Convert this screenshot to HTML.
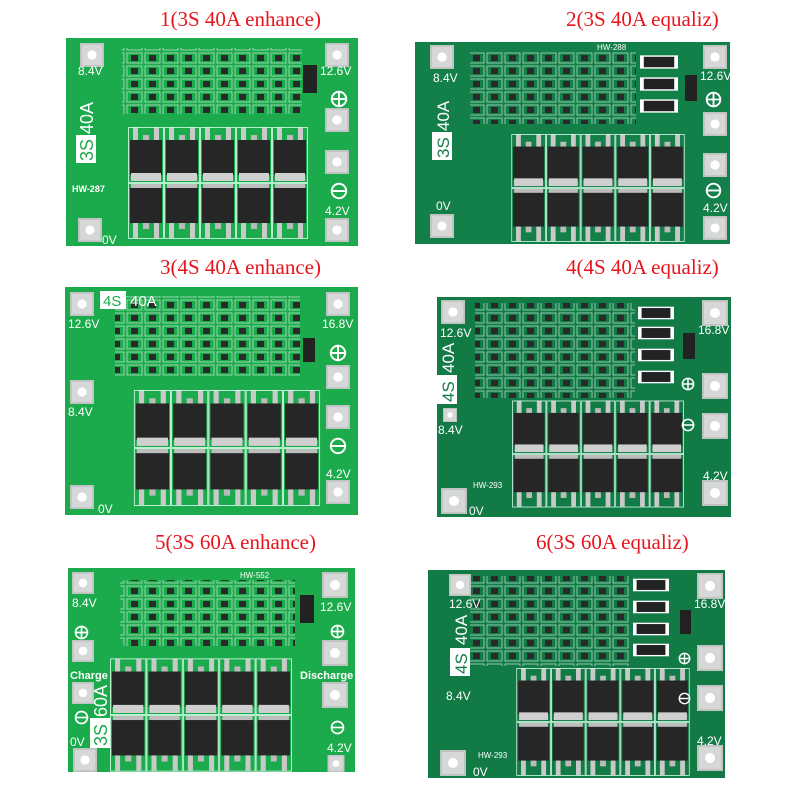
<!DOCTYPE html>
<html><head><meta charset="utf-8"><style>
html,body{margin:0;padding:0;background:#fff;width:800px;height:800px;overflow:hidden}
svg{display:block}
.t{font-family:"Liberation Serif",serif;font-size:21px;fill:#e8141c}
.w{font-family:"Liberation Sans",sans-serif;fill:#fff}
</style></head><body>
<svg width="800" height="800" viewBox="0 0 800 800" xmlns="http://www.w3.org/2000/svg">
<defs>
<pattern id="cp" width="18" height="13" patternUnits="userSpaceOnUse">
<rect x="1" y="1" width="15" height="10" fill="none" stroke="#d8eedc" stroke-width="0.8" opacity="0.8"/>
<rect x="5" y="3" width="7" height="6" fill="#2a2a2a"/>
</pattern>
<symbol id="ft" viewBox="0 0 36 56"><rect x="5" y="0" width="5" height="16" fill="#c9c9c9"/><rect x="26" y="0" width="5" height="16" fill="#c9c9c9"/><rect x="15" y="8" width="6" height="8" fill="#bbb"/><rect x="2" y="13" width="32" height="35" fill="#262626"/><rect x="3" y="46" width="30" height="8" fill="#cfcfcf"/><rect x="0.5" y="0.5" width="35" height="55" fill="none" stroke="#dfe" stroke-width="0.8"/></symbol>
<symbol id="fb" viewBox="0 0 36 56"><rect x="3" y="1" width="30" height="6" fill="#bdbdbd"/><rect x="2" y="5" width="32" height="35" fill="#262626"/><rect x="5" y="40" width="5" height="15" fill="#c9c9c9"/><rect x="26" y="40" width="5" height="15" fill="#c9c9c9"/><rect x="15" y="40" width="6" height="6" fill="#bbb"/><rect x="0.5" y="0.5" width="35" height="55" fill="none" stroke="#dfe" stroke-width="0.8"/></symbol>
<symbol id="tm" viewBox="0 0 26 26"><rect width="26" height="26" fill="#bfc3c1"/><rect x="2" y="2" width="22" height="22" fill="#d6d8d7"/><circle cx="13" cy="13" r="5" fill="#fff"/></symbol>
<symbol id="pl" viewBox="0 0 20 20"><circle cx="10" cy="10" r="8" fill="none" stroke="#fff" stroke-width="2.2"/><path d="M2 10H18M10 2V18" stroke="#fff" stroke-width="2.2"/></symbol>
<symbol id="mi" viewBox="0 0 20 20"><circle cx="10" cy="10" r="8" fill="none" stroke="#fff" stroke-width="2.2"/><path d="M2 10H18" stroke="#fff" stroke-width="2.2"/></symbol>
<symbol id="fets" viewBox="0 0 180 112"><use href="#ft" x="0" y="0" width="36" height="56"/><use href="#ft" x="36" y="0" width="36" height="56"/><use href="#ft" x="72" y="0" width="36" height="56"/><use href="#ft" x="108" y="0" width="36" height="56"/><use href="#ft" x="144" y="0" width="36" height="56"/><use href="#fb" x="0" y="56" width="36" height="56"/><use href="#fb" x="36" y="56" width="36" height="56"/><use href="#fb" x="72" y="56" width="36" height="56"/><use href="#fb" x="108" y="56" width="36" height="56"/><use href="#fb" x="144" y="56" width="36" height="56"/></symbol>
<symbol id="res" viewBox="0 0 40 14"><rect width="40" height="14" fill="#fff"/><rect x="4" y="1.5" width="32" height="11" fill="#222"/></symbol>
</defs>
<rect width="800" height="800" fill="#fff"/>

<text class="t" x="160" y="26">1(3S 40A enhance)</text>
<text class="t" x="566" y="26">2(3S 40A equaliz)</text>
<text class="t" x="160" y="274">3(4S 40A enhance)</text>
<text class="t" x="566" y="274">4(4S 40A equaliz)</text>
<text class="t" x="155" y="549">5(3S 60A enhance)</text>
<text class="t" x="536" y="549">6(3S 60A equaliz)</text>

<!-- Board 1 -->
<rect x="66" y="38" width="292" height="208" fill="#1cab4c"/>
<rect x="122" y="48" width="180" height="66" fill="url(#cp)"/>
<use href="#fets" x="128" y="126" width="180" height="114"/>
<use href="#tm" x="80" y="43" width="24" height="24"/>
<use href="#tm" x="325" y="43" width="24" height="24"/>
<use href="#tm" x="325" y="108" width="24" height="24"/>
<use href="#tm" x="325" y="150" width="24" height="24"/>
<use href="#tm" x="325" y="218" width="24" height="24"/>
<use href="#tm" x="78" y="218" width="24" height="24"/>
<use href="#pl" x="330" y="90" width="18" height="18"/>
<use href="#mi" x="330" y="182" width="18" height="18"/>
<rect x="303" y="65" width="14" height="28" fill="#222"/>
<rect x="76" y="135" width="20" height="28" fill="#fff"/>
<text class="w" x="78" y="75" style="font-size:12px">8.4V</text>
<text class="w" x="320" y="75" style="font-size:12px">12.6V</text>
<text class="w" x="325" y="215" style="font-size:12px">4.2V</text>
<text class="w" x="102" y="244" style="font-size:12px">0V</text>
<text class="w" x="72" y="192" style="font-size:9px;font-weight:bold">HW-287</text>
<text class="w" transform="translate(93,161) rotate(-90)" style="font-size:18px;fill:#1cab4c">3S</text>
<text class="w" transform="translate(93,134) rotate(-90)" style="font-size:18px">40A</text>

<!-- Board 2 -->
<rect x="415" y="42" width="315" height="202" fill="#137f49"/>
<rect x="470" y="52" width="166" height="72" fill="url(#cp)"/>
<use href="#res" x="640" y="55" width="38" height="14"/>
<use href="#res" x="640" y="77" width="38" height="14"/>
<use href="#res" x="640" y="99" width="38" height="14"/>
<use href="#fets" x="505" y="134" width="186" height="108"/>
<use href="#tm" x="430" y="45" width="24" height="24"/>
<use href="#tm" x="703" y="45" width="24" height="24"/>
<use href="#tm" x="703" y="112" width="24" height="24"/>
<use href="#tm" x="703" y="153" width="24" height="24"/>
<use href="#tm" x="703" y="216" width="24" height="24"/>
<use href="#tm" x="430" y="214" width="24" height="24"/>
<use href="#pl" x="705" y="91" width="17" height="17"/>
<use href="#mi" x="705" y="182" width="17" height="17"/>
<rect x="685" y="75" width="12" height="26" fill="#222"/>
<rect x="432" y="132" width="20" height="28" fill="#fff"/>
<text class="w" x="433" y="82" style="font-size:12px">8.4V</text>
<text class="w" x="700" y="80" style="font-size:12px">12.6V</text>
<text class="w" x="703" y="212" style="font-size:12px">4.2V</text>
<text class="w" x="436" y="210" style="font-size:12px">0V</text>
<text class="w" x="597" y="50" style="font-size:8px">HW-288</text>
<text class="w" transform="translate(449,158) rotate(-90)" style="font-size:17px;fill:#137f49">3S</text>
<text class="w" transform="translate(449,131) rotate(-90)" style="font-size:17px">40A</text>

<!-- Board 3 -->
<rect x="65" y="287" width="293" height="228" fill="#1cab4c"/>
<rect x="115" y="296" width="185" height="80" fill="url(#cp)"/>
<use href="#fets" x="118" y="390" width="218" height="116"/>
<use href="#tm" x="70" y="292" width="24" height="24"/>
<use href="#tm" x="326" y="292" width="24" height="24"/>
<use href="#tm" x="70" y="380" width="24" height="24"/>
<use href="#tm" x="326" y="365" width="24" height="24"/>
<use href="#tm" x="326" y="405" width="24" height="24"/>
<use href="#tm" x="326" y="480" width="24" height="24"/>
<use href="#tm" x="70" y="485" width="24" height="24"/>
<use href="#pl" x="329" y="344" width="18" height="18"/>
<use href="#mi" x="329" y="437" width="18" height="18"/>
<rect x="303" y="338" width="12" height="24" fill="#222"/>
<rect x="100" y="291" width="26" height="18" fill="#fff"/>
<text class="w" x="103" y="306" style="font-size:15px;fill:#1cab4c">4S</text>
<text class="w" x="130" y="306" style="font-size:15px">40A</text>
<text class="w" x="68" y="328" style="font-size:12px">12.6V</text>
<text class="w" x="322" y="328" style="font-size:12px">16.8V</text>
<text class="w" x="68" y="416" style="font-size:12px">8.4V</text>
<text class="w" x="326" y="478" style="font-size:12px">4.2V</text>
<text class="w" x="98" y="513" style="font-size:12px">0V</text>

<!-- Board 4 -->
<rect x="437" y="297" width="294" height="220" fill="#117a45"/>
<rect x="475" y="303" width="160" height="95" fill="url(#cp)"/>
<use href="#res" x="638" y="306" width="36" height="14"/>
<use href="#res" x="638" y="326" width="36" height="14"/>
<use href="#res" x="638" y="348" width="36" height="14"/>
<use href="#res" x="638" y="370" width="36" height="14"/>
<use href="#fets" x="512" y="400" width="172" height="108"/>
<use href="#tm" x="440" y="300" width="26" height="24"/>
<use href="#tm" x="702" y="300" width="26" height="26"/>
<use href="#tm" x="702" y="373" width="26" height="26"/>
<use href="#tm" x="702" y="413" width="26" height="26"/>
<use href="#tm" x="702" y="480" width="26" height="26"/>
<use href="#tm" x="441" y="488" width="26" height="26"/>
<use href="#tm" x="443" y="408" width="14" height="14"/>
<use href="#pl" x="681" y="377" width="14" height="14"/>
<use href="#mi" x="681" y="418" width="14" height="14"/>
<rect x="683" y="333" width="12" height="26" fill="#222"/>
<rect x="437" y="375" width="20" height="29" fill="#fff"/>
<text class="w" x="440" y="337" style="font-size:12px">12.6V</text>
<text class="w" x="698" y="334" style="font-size:12px">16.8V</text>
<text class="w" x="438" y="434" style="font-size:12px">8.4V</text>
<text class="w" x="703" y="480" style="font-size:12px">4.2V</text>
<text class="w" x="469" y="515" style="font-size:12px">0V</text>
<text class="w" x="473" y="488" style="font-size:8px">HW-293</text>
<text class="w" transform="translate(454,402) rotate(-90)" style="font-size:17px;fill:#117a45">4S</text>
<text class="w" transform="translate(454,373) rotate(-90)" style="font-size:17px">40A</text>

<!-- Board 5 -->
<rect x="68" y="568" width="287" height="204" fill="#1cab4c"/>
<rect x="120" y="580" width="175" height="66" fill="url(#cp)"/>
<use href="#fets" x="110" y="658" width="182" height="114"/>
<use href="#tm" x="72" y="572" width="22" height="22"/>
<use href="#tm" x="322" y="572" width="26" height="26"/>
<use href="#tm" x="72" y="640" width="22" height="22"/>
<use href="#tm" x="322" y="640" width="26" height="26"/>
<use href="#tm" x="72" y="682" width="22" height="22"/>
<use href="#tm" x="322" y="682" width="26" height="26"/>
<use href="#tm" x="72" y="748" width="26" height="24"/>
<use href="#tm" x="325" y="755" width="22" height="17"/>
<use href="#pl" x="74" y="625" width="15" height="15"/>
<use href="#pl" x="330" y="624" width="15" height="15"/>
<use href="#mi" x="74" y="710" width="15" height="15"/>
<use href="#mi" x="330" y="720" width="15" height="15"/>
<rect x="300" y="595" width="14" height="28" fill="#222"/>
<rect x="90" y="718" width="20" height="30" fill="#fff"/>
<text class="w" x="72" y="607" style="font-size:12px">8.4V</text>
<text class="w" x="320" y="611" style="font-size:12px">12.6V</text>
<text class="w" x="70" y="679" style="font-size:11px;font-weight:bold">Charge</text>
<text class="w" x="300" y="679" style="font-size:11px;font-weight:bold">Discharge</text>
<text class="w" x="70" y="746" style="font-size:12px">0V</text>
<text class="w" x="327" y="752" style="font-size:12px">4.2V</text>
<text class="w" x="240" y="578" style="font-size:8px">HW-552</text>
<text class="w" transform="translate(107,746) rotate(-90)" style="font-size:18px;fill:#1cab4c">3S</text>
<text class="w" transform="translate(107,717) rotate(-90)" style="font-size:18px">60A</text>

<!-- Board 6 -->
<rect x="428" y="570" width="297" height="208" fill="#117a45"/>
<rect x="470" y="576" width="160" height="90" fill="url(#cp)"/>
<use href="#res" x="633" y="578" width="36" height="14"/>
<use href="#res" x="633" y="600" width="36" height="14"/>
<use href="#res" x="633" y="622" width="36" height="14"/>
<use href="#res" x="633" y="643" width="36" height="14"/>
<use href="#fets" x="515" y="668" width="176" height="108"/>
<use href="#tm" x="448" y="574" width="24" height="22"/>
<use href="#tm" x="697" y="573" width="26" height="26"/>
<use href="#tm" x="697" y="645" width="26" height="26"/>
<use href="#tm" x="697" y="685" width="26" height="26"/>
<use href="#tm" x="697" y="745" width="26" height="26"/>
<use href="#tm" x="440" y="750" width="26" height="26"/>
<use href="#pl" x="678" y="652" width="13" height="13"/>
<use href="#mi" x="678" y="692" width="13" height="13"/>
<rect x="680" y="610" width="11" height="24" fill="#222"/>
<rect x="450" y="648" width="20" height="28" fill="#fff"/>
<text class="w" x="449" y="608" style="font-size:12px">12.6V</text>
<text class="w" x="694" y="608" style="font-size:12px">16.8V</text>
<text class="w" x="446" y="700" style="font-size:12px">8.4V</text>
<text class="w" x="697" y="745" style="font-size:12px">4.2V</text>
<text class="w" x="473" y="776" style="font-size:12px">0V</text>
<text class="w" x="478" y="758" style="font-size:8px">HW-293</text>
<text class="w" transform="translate(467,674) rotate(-90)" style="font-size:17px;fill:#117a45">4S</text>
<text class="w" transform="translate(467,645) rotate(-90)" style="font-size:17px">40A</text>
</svg>
</body></html>
